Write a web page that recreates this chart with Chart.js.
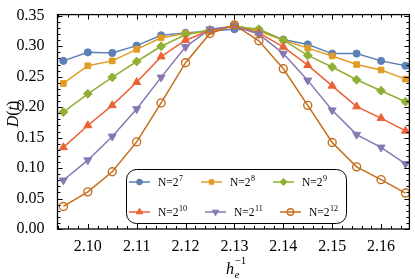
<!DOCTYPE html>
<html>
<head>
<meta charset="utf-8">
<script src="https://cdn.jsdelivr.net/npm/chart.js@4.4.1/dist/chart.umd.min.js"></script>
<style>
  html,body{margin:0;padding:0;background:#fff;}
  #wrap{width:415px;height:279px;}
</style>
</head>
<body>
<div id="wrap"><canvas id="myChart" width="415" height="279"></canvas></div>
<script>
// data
const hInv = [2.095,2.100,2.105,2.110,2.115,2.120,2.125,2.130,2.135,2.140,2.145,2.150,2.155,2.160,2.165]
const exponents = [7,8,9,10,11,12]
const d7  = [0.276,0.290,0.289,0.301,0.318,0.322,0.325,0.328,0.327,0.311,0.303,0.288,0.288,0.276,0.268]
const d8  = [0.239,0.268,0.276,0.295,0.314,0.321,0.324,0.334,0.325,0.310,0.297,0.284,0.270,0.261,0.246]
const d9  = [0.192,0.222,0.249,0.275,0.300,0.319,0.327,0.333,0.328,0.310,0.285,0.266,0.245,0.227,0.209]
const d10 = [0.134,0.170,0.203,0.241,0.283,0.310,0.326,0.333,0.322,0.299,0.269,0.235,0.201,0.182,0.161]
const d11 = [0.080,0.113,0.152,0.197,0.249,0.299,0.328,0.333,0.320,0.288,0.244,0.195,0.155,0.134,0.107]
const d12 = [0.037,0.061,0.094,0.143,0.207,0.273,0.321,0.335,0.309,0.263,0.203,0.142,0.102,0.081,0.059]
const xTicks = [2.10,2.11,2.12,2.13,2.14,2.15,2.16]
const yTicks = [0.00,0.05,0.10,0.15,0.20,0.25,0.30,0.35]

const series = [d7,d8,d9,d10,d11,d12]
const colors = ['#5E81B5','#E19C24','#8FB032','#EB6235','#8778B3','#C56E1A']
const styles = ['circle','rect','rectRot','triangle','triangle','circle']
const rots = [0,0,0,0,180,0]
const radii = [3.6,4,4.4,4.6,4.6,4]

const datasets = series.map((s,i)=>({
  label:'N=2^'+exponents[i],
  data:s.map((v,j)=>({x:hInv[j],y:v})),
  borderColor:colors[i],
  backgroundColor:i===5 ? 'rgba(0,0,0,0)' : colors[i],
  pointBorderColor:colors[i],
  pointBackgroundColor:i===5 ? 'rgba(0,0,0,0)' : colors[i],
  pointStyle:styles[i],
  pointRotation:rots[i],
  pointRadius:radii[i],
  pointBorderWidth:i===5 ? 1.4 : 1,
  borderWidth:1.5,
  order:6-i
}))

const serif = '"Liberation Serif","DejaVu Serif",serif'

// frame with inward ticks + axis titles + legend box
const decor = {
  id:'decor',
  afterDatasetsDraw(chart){
    const ctx = chart.ctx
    const a = chart.chartArea
    const xs = chart.scales.x, ys = chart.scales.y
    ctx.save()
    ctx.strokeStyle = '#000'
    ctx.lineWidth = 1
    const tick = (val,axis,len)=>{
      if(axis==='x'){
        const p = Math.round(xs.getPixelForValue(val))+0.5
        ctx.beginPath();ctx.moveTo(p,a.bottom);ctx.lineTo(p,a.bottom-len);ctx.stroke()
        ctx.beginPath();ctx.moveTo(p,a.top);ctx.lineTo(p,a.top+len);ctx.stroke()
      }else{
        const p = Math.round(ys.getPixelForValue(val))+0.5
        ctx.beginPath();ctx.moveTo(a.left,p);ctx.lineTo(a.left+len,p);ctx.stroke()
        ctx.beginPath();ctx.moveTo(a.right,p);ctx.lineTo(a.right-len,p);ctx.stroke()
      }
    }
    for(let k=0;k<=36;k++){
      const v = 2.094+k*0.002
      if(v<xs.min||v>xs.max) continue
      const major = xTicks.some(t=>Math.abs(t-v)<1e-6)
      tick(v,'x',major?5:3)
    }
    for(let k=0;k<=35;k++){
      const v = k*0.01
      const major = yTicks.some(t=>Math.abs(t-v)<1e-6)
      tick(v,'y',major?5:3)
    }
    ctx.lineWidth = 1.3
    ctx.strokeRect(a.left,a.top,a.right-a.left,a.bottom-a.top)

    // y title D(t)
    ctx.fillStyle = '#000'
    ctx.save()
    ctx.translate(14,114)
    ctx.rotate(-Math.PI/2)
    const parts = [['D','italic '],['(',''],['t','italic '],[')','']]
    let w = 0
    parts.forEach(p=>{ctx.font=p[1]+'16px '+serif; w+=ctx.measureText(p[0]).width})
    let cx = -w/2
    ctx.textBaseline = 'middle'
    parts.forEach(p=>{ctx.font=p[1]+'16px '+serif; ctx.fillText(p[0],cx,0); cx+=ctx.measureText(p[0]).width})
    ctx.restore()

    // x title h_e^-1
    ctx.textBaseline = 'alphabetic'
    ctx.font = 'italic 16px '+serif
    ctx.fillText('h',226,274)
    const hw = ctx.measureText('h').width
    ctx.font = 'italic 11px '+serif
    ctx.fillText('e',226+hw+0.5,277.5)
    ctx.font = '11px '+serif
    ctx.fillText('\u22121',226+hw+0.5,264)

    // legend
    const bx=126, by=169, bw=220, bh=54, r=10
    ctx.beginPath()
    ctx.roundRect(bx+0.5,by+0.5,bw,bh,r)
    ctx.fillStyle = '#fff'
    ctx.fill()
    ctx.lineWidth = 1
    ctx.strokeStyle = '#000'
    ctx.stroke()
    const slots = [[129,182],[201,182],[273,182],[129,212],[205,212],[280,212]]
    chart.data.datasets.forEach((ds,i)=>{
      const [lx,ly] = slots[i]
      ctx.strokeStyle = ds.borderColor
      ctx.lineWidth = 1.5
      ctx.beginPath();ctx.moveTo(lx,ly);ctx.lineTo(lx+21,ly);ctx.stroke()
      ctx.fillStyle = ds.pointBackgroundColor
      ctx.strokeStyle = ds.pointBorderColor
      ctx.lineWidth = ds.pointBorderWidth
      Chart.helpers.drawPoint(ctx,{pointStyle:ds.pointStyle,rotation:ds.pointRotation,radius:ds.pointRadius*0.8,borderWidth:ds.pointBorderWidth},lx+10.5,ly)
      ctx.fillStyle = '#000'
      ctx.font = '11.5px '+serif
      ctx.textBaseline = 'alphabetic'
      const tx = lx+29
      ctx.fillText('N=2',tx,ly+4)
      const tw = ctx.measureText('N=2').width
      ctx.font = '8px '+serif
      ctx.fillText(String(exponents[i]),tx+tw+0.5,ly-1)
    })
    ctx.restore()
  }
}

new Chart(document.getElementById('myChart'),{
  type:'line',
  data:{datasets},
  options:{
    responsive:false,
    animation:false,
    events:[],
    layout:{padding:{left:0,right:2,top:10,bottom:0}},
    plugins:{legend:{display:false},tooltip:{enabled:false}},
    scales:{
      x:{
        type:'linear',
        min:2.0938,max:2.1658,
        afterBuildTicks:s=>{s.ticks=xTicks.map(v=>({value:v}))},
        afterFit:s=>{s.height=50},
        grid:{display:false},
        border:{display:false},
        ticks:{
          color:'#000',padding:0,maxRotation:0,
          font:{family:serif,size:16},
          callback:v=>v.toFixed(2)
        }
      },
      y:{
        min:0,max:0.352,
        afterBuildTicks:s=>{s.ticks=yTicks.map(v=>({value:v}))},
        afterFit:s=>{s.width=57.5},
        grid:{display:false},
        border:{display:false},
        ticks:{
          color:'#000',padding:5,
          font:{family:serif,size:16},
          callback:v=>v.toFixed(2)
        }
      }
    }
  },
  plugins:[decor]
})
</script>
</body>
</html>
